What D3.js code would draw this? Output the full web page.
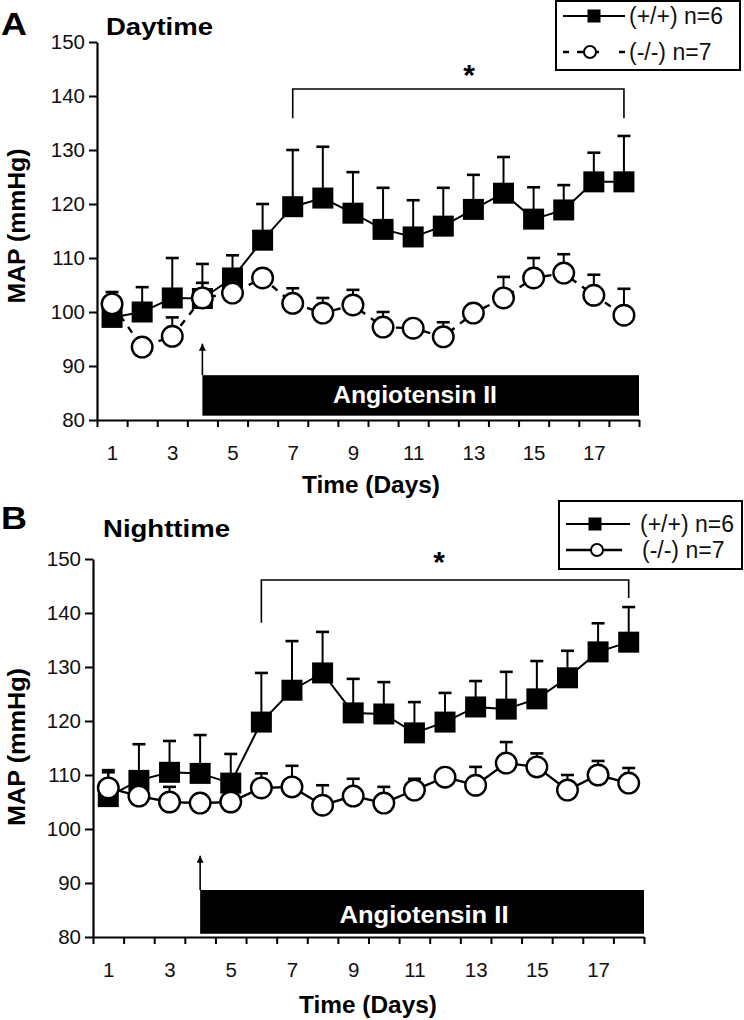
<!DOCTYPE html>
<html><head><meta charset="utf-8">
<script src="https://cdn.jsdelivr.net/npm/d3@7"></script>
<style>
html,body{margin:0;padding:0;background:#fff;}
svg{display:block;font-family:"Liberation Sans",Arial,Helvetica,sans-serif;}
</style></head>
<body><svg id="chart" width="744" height="1020"></svg>
<script>
// ---------- data ----------
const days = [1,2,3,4,5,6,7,8,9,10,11,12,13,14,15,16,17,18];
const yTicks = [80,90,100,110,120,130,140,150];
const xLabelDays = [1,3,5,7,9,11,13,15,17];
const seriesNames = ["(+/+) n=6", "(-/-) n=7"];

const dayWT    = [99,100,102.6,102.5,106.3,113.3,119.5,121.1,118.3,115.3,113.9,115.9,119,122,117.2,118.9,124.1,124.1];
const daySemWT = [3,4.6,7.4,6.4,4.2,6.7,10.5,9.5,7.6,7.7,6.8,7.1,6.4,6.7,5.9,4.6,5.4,8.5];
const dayKO    = [101.5,93.5,95.5,102.6,103.5,106.3,101.6,99.8,101.3,97.2,97,95.4,99.8,102.6,106.3,107.2,103.1,99.4];
const daySemKO = [2.2,1.5,3.5,2.8,1.5,1.5,2.8,2.8,2.8,2.8,1.5,2.7,1.5,3.9,3.7,3.5,3.8,4.9];

const nightWT    = [106,109,110.5,110.3,108.5,119.8,125.7,128.9,121.5,121.3,117.8,119.8,122.6,122.2,124.1,128,132.8,134.6];
const nightSemWT = [4.5,6.7,5.8,7.1,5.4,9.1,9.1,7.6,6.3,5.9,5.7,5.4,4.8,6.9,7,5,5.3,6.5];
const nightKO    = [107.6,106.1,105,104.8,105,107.6,107.8,104.4,106.1,104.8,107.2,109.6,108.1,112.2,111.5,107.2,110,108.5];
const nightSemKO = [3.3,1.5,2.8,1.5,1.5,2.7,3.9,3.7,3.2,3.0,2.1,1.5,3.4,3.9,2.5,2.8,2.6,2.8];

// treatment / significance annotations (day, value)
const angStartDay = 4, angEndDay = 18.5;
const dayAngBar = [80.8, 88.3], dayArrowTop = 94.5;
const nightAngBar = [80.6, 88.7], nightArrowTop = 95.4;
const dayBracket = {from:7, to:18, top:141.3, leftEnd:135.9, rightEnd:135.9};
const nightBracket = {from:6, to:18, top:146.1, leftEnd:138.2, rightEnd:142.8};

// ---------- drawing ----------
const svg = d3.select("#chart");
const FONT = '"Liberation Sans",Arial,Helvetica,sans-serif';

svg.append("defs").append("marker")
  .attr("id","arrowhead").attr("viewBox","0 0 10 10").attr("refX",5).attr("refY",0)
  .attr("markerWidth",7).attr("markerHeight",10).attr("markerUnits","userSpaceOnUse")
  .attr("orient","0")
  .append("path").attr("d","M0,10 L5,0 L10,10 Z").attr("fill","#000");

function panel(cfg){
  const g = svg.append("g");
  const x = d3.scaleLinear().domain([0.5,18.5]).range(cfg.xr);
  const y = d3.scaleLinear().domain([80,150]).range(cfg.yr);

  // panel letter & title
  g.append("text").attr("x",cfg.letterX).attr("y",cfg.letterY).attr("font-size",31)
    .attr("font-weight","bold").attr("textLength",26).attr("lengthAdjust","spacingAndGlyphs").text(cfg.letter);
  g.append("text").attr("x",cfg.titleX).attr("y",cfg.titleY).attr("font-size",24)
    .attr("font-weight","bold").attr("textLength",cfg.titleLen).attr("lengthAdjust","spacingAndGlyphs").text(cfg.title);

  // angiotensin bar
  g.append("rect").attr("x",x(angStartDay)).attr("y",y(cfg.bar[1]))
    .attr("width",x(angEndDay)-x(angStartDay)).attr("height",y(cfg.bar[0])-y(cfg.bar[1]))
    .attr("fill","#000");
  g.append("text").attr("x",cfg.angX).attr("y",y(cfg.bar[1])+ cfg.angDy).attr("text-anchor","middle")
    .attr("font-size",23).attr("font-weight","bold").attr("fill","#fff")
    .attr("textLength",cfg.angLen).attr("lengthAdjust","spacingAndGlyphs").text("Angiotensin II");
  g.append("line").attr("x1",x(angStartDay)).attr("x2",x(angStartDay))
    .attr("y1",y(cfg.bar[1])).attr("y2",y(cfg.arrowTop)+2)
    .attr("stroke","#000").attr("stroke-width",1.6).attr("marker-end","url(#arrowhead)");

  // axes
  const ya = g.append("g").attr("transform",`translate(${cfg.xr[0]},0)`)
    .call(d3.axisLeft(y).tickValues(yTicks).tickSize(8).tickSizeOuter(0).tickPadding(4));
  const xa = g.append("g").attr("transform",`translate(0,${cfg.yr[0]})`)
    .call(d3.axisBottom(x).tickValues(d3.range(0.5,19,1)).tickFormat("").tickSize(7).tickSizeOuter(0));
  const xl = g.append("g").attr("transform",`translate(0,${cfg.yr[0]})`)
    .call(d3.axisBottom(x).tickValues(xLabelDays).tickSize(0).tickPadding(cfg.xPad).tickFormat(d3.format("d")));
  xl.select(".domain").remove();
  [ya,xa,xl].forEach(a=>{
    a.selectAll("path.domain").attr("stroke","#000").attr("stroke-width",2.2);
    a.selectAll(".tick line").attr("stroke","#000").attr("stroke-width",2);
    a.selectAll("text").attr("font-size",20.5).attr("font-family",FONT).attr("fill","#111");
  });

  // axis titles
  g.append("text").attr("transform",`translate(${cfg.yLabX},${cfg.yLabY}) rotate(-90)`)
    .attr("text-anchor","middle").attr("font-size",23).attr("font-weight","bold")
    .attr("textLength",cfg.yLabLen).attr("lengthAdjust","spacingAndGlyphs").text("MAP (mmHg)");
  g.append("text").attr("x",cfg.xLabX).attr("y",cfg.xLabY).attr("font-size",23).attr("font-weight","bold")
    .attr("textLength",138).attr("lengthAdjust","spacingAndGlyphs").text("Time (Days)");

  // significance bracket
  const b = cfg.bracket;
  g.append("path").attr("fill","none").attr("stroke","#000").attr("stroke-width",1.6)
    .attr("d",`M${x(b.from)},${y(b.leftEnd)} V${y(b.top)} H${x(b.to)} V${y(b.rightEnd)}`);
  g.append("text").attr("x",cfg.starX).attr("y",y(b.top)-cfg.starDy).attr("text-anchor","middle")
    .attr("font-size",30).attr("font-weight","bold").text("*");

  const line = d3.line().x(d=>x(d.d)).y(d=>y(d.v));
  const wt = days.map((d,i)=>({d, v:cfg.wt[i], e:cfg.wtSem[i]}));
  const ko = days.map((d,i)=>({d, v:cfg.ko[i], e:cfg.koSem[i]}));

  function errs(data){
    const eg = g.append("g").attr("stroke","#000");
    eg.selectAll("line.v").data(data).join("line").attr("stroke-width",2)
      .attr("x1",d=>x(d.d)).attr("x2",d=>x(d.d)).attr("y1",d=>y(d.v)).attr("y2",d=>y(d.v+d.e));
    eg.selectAll("line.c").data(data).join("line").attr("stroke-width",2.6)
      .attr("x1",d=>x(d.d)-6.5).attr("x2",d=>x(d.d)+6.5).attr("y1",d=>y(d.v+d.e)).attr("y2",d=>y(d.v+d.e));
  }

  // WT series
  g.append("path").datum(wt).attr("d",line).attr("fill","none").attr("stroke","#000").attr("stroke-width",2);
  errs(wt);
  g.append("g").selectAll("rect").data(wt).join("rect")
    .attr("x",d=>x(d.d)-10.5).attr("y",d=>y(d.v)-10.5).attr("width",21).attr("height",21).attr("fill","#000");

  // KO series
  g.append("path").datum(ko).attr("d",line).attr("fill","none").attr("stroke","#000").attr("stroke-width",2.4)
    .attr("stroke-dasharray",cfg.koDash);
  errs(ko);
  g.append("g").selectAll("circle").data(ko).join("circle")
    .attr("cx",d=>x(d.d)).attr("cy",d=>y(d.v)).attr("r",10.3)
    .attr("fill","#fff").attr("stroke","#000").attr("stroke-width",2.4);

  // legend
  const L = cfg.legend;
  const lg = g.append("g");
  lg.append("rect").attr("x",L.x).attr("y",L.y).attr("width",L.w).attr("height",L.h)
    .attr("fill","#fff").attr("stroke","#000").attr("stroke-width",2);
  lg.append("line").attr("x1",L.lx1).attr("x2",L.lx2).attr("y1",L.r1).attr("y2",L.r1)
    .attr("stroke","#000").attr("stroke-width",2);
  lg.append("rect").attr("x",L.m1-6.5).attr("y",L.r1-6.5).attr("width",13).attr("height",13).attr("fill","#000");
  lg.append("line").attr("x1",L.lx1).attr("x2",L.lx2b).attr("y1",L.r2).attr("y2",L.r2)
    .attr("stroke","#000").attr("stroke-width",2.4).attr("stroke-dasharray",L.dash);
  lg.append("circle").attr("cx",L.m2).attr("cy",L.r2).attr("r",6).attr("fill","#fff")
    .attr("stroke","#000").attr("stroke-width",2);
  lg.append("text").attr("x",L.tx1).attr("y",L.r1+8).attr("font-size",23).attr("fill","#111").text(seriesNames[0]);
  lg.append("text").attr("x",L.tx2).attr("y",L.r2+8).attr("font-size",23).attr("fill","#111").text(seriesNames[1]);
}

panel({
  xr:[97,639], yr:[420,42],
  letter:"A", letterX:1, letterY:35, title:"Daytime", titleX:106, titleY:35, titleLen:107,
  bar:dayAngBar, arrowTop:dayArrowTop, angX:415, angDy:28, angLen:164,
  xPad:25, yLabX:25, yLabY:226, yLabLen:155, xLabX:302, xLabY:493,
  bracket:dayBracket, starX:469, starDy:4,
  wt:dayWT, wtSem:daySemWT, ko:dayKO, koSem:daySemKO, koDash:"7,7",
  legend:{x:556,y:1,w:184,h:69,lx1:563,lx2:625,lx2b:625,r1:16,r2:52,m1:594,m2:590,
          dash:"6,8,22,20,6",tx1:629,tx2:629}
});

panel({
  xr:[93,644], yr:[937,559],
  letter:"B", letterX:1, letterY:529, title:"Nighttime", titleX:103, titleY:537, titleLen:127,
  bar:nightAngBar, arrowTop:nightArrowTop, angX:424, angDy:33, angLen:169,
  xPad:25, yLabX:25, yLabY:747, yLabLen:158, xLabX:299, xLabY:1013,
  bracket:nightBracket, starX:439, starDy:8,
  wt:nightWT, wtSem:nightSemWT, ko:nightKO, koSem:nightSemKO, koDash:null,
  legend:{x:559,y:501,w:183,h:68,lx1:566,lx2:630,lx2b:622,r1:524,r2:550,m1:595,m2:597,
          dash:null,tx1:640,tx2:642}
});
</script></body></html>
